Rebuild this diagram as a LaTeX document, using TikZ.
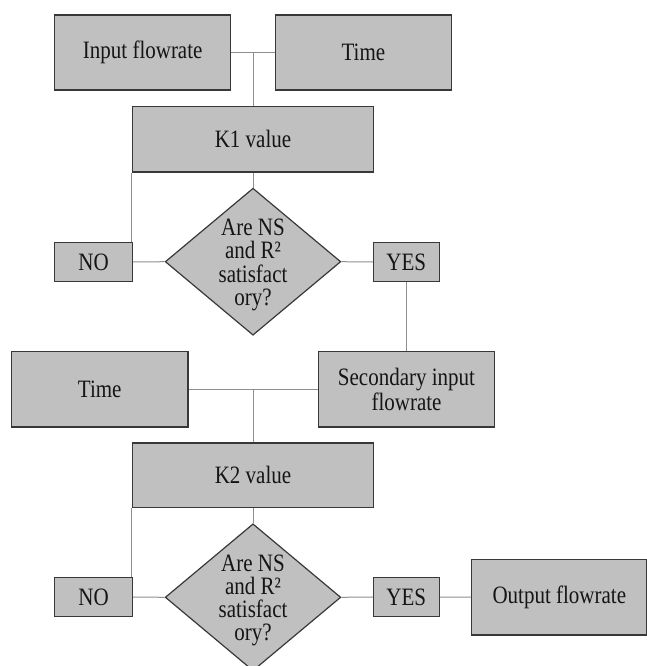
\documentclass[tikz,border=0pt]{standalone}
\usepackage{fontspec}
\setmainfont{Liberation Serif}
\usepackage{graphicx}
\usetikzlibrary{shapes.geometric}
\definecolor{boxfill}{HTML}{C0C0C0}
\definecolor{boxline}{HTML}{383838}
\definecolor{connclr}{HTML}{8E8E8E}
\definecolor{txtclr}{HTML}{151515}
\newcommand\hs[1]{\scalebox{0.84}[1]{#1}}
\begin{document}
\begin{tikzpicture}[x=1pt,y=-1pt,
  box/.style={draw=boxline, fill=boxfill, line width=1.2pt, inner sep=0pt, align=center, text=txtclr, font=\fontsize{25}{24.5}\selectfont},
  decision/.style={draw=boxline, fill=boxfill, line width=1.2pt, diamond, inner sep=0pt, minimum width=175.6pt, minimum height=147pt},
  txt/.style={align=center, inner sep=0pt, text=txtclr, font=\fontsize{25}{23.2}\selectfont},
  conn/.style={draw=connclr, line width=1pt}]
\useasboundingbox (0,0) rectangle (646,666);
% nodes
\node[box, minimum width=176pt, minimum height=75pt] (in) at (142.7,52.5) {\hs{Input flowrate}};
\node[box, minimum width=176pt, minimum height=75pt] (t1) at (363.4,52.5) {\hs{Time}};
\node[box, minimum width=241.4pt, minimum height=65.3pt] (k1) at (253,139.3) {\hs{K1 value}};
\node[decision] (d1) at (253,261.7) {};
\node[txt] (d1t) at (253,265) {\hs{Are NS}\\\hs{and R²}\\\hs{satisfact}\\\hs{ory?}};
\node[box, minimum width=77.9pt, minimum height=39.4pt] (no1) at (93.65,262) {\hs{NO}};
\node[box, minimum width=65.9pt, minimum height=39.4pt] (yes1) at (406.3,262) {\hs{YES}};
\node[box, minimum width=176.4pt, minimum height=75.3pt] (t2) at (99.7,389.3) {\hs{Time}};
\node[box, minimum width=176pt, minimum height=75.3pt] (sec) at (406.5,389.3) {\hs{Secondary input}\\\hs{flowrate}};
\node[box, minimum width=241.4pt, minimum height=64.5pt] (k2) at (253,475.2) {\hs{K2 value}};
\node[decision] (d2) at (253,597.3) {};
\node[txt] (d2t) at (253,600.6) {\hs{Are NS}\\\hs{and R²}\\\hs{satisfact}\\\hs{ory?}};
\node[box, minimum width=77.9pt, minimum height=39.4pt] (no2) at (93.65,597) {\hs{NO}};
\node[box, minimum width=65.9pt, minimum height=39.4pt] (yes2) at (406.3,597) {\hs{YES}};
\node[box, minimum width=175pt, minimum height=75.7pt] (out) at (559.3,597.2) {\hs{Output flowrate}};
% connectors
\draw[conn] (in.east) -- (t1.west);
\draw[conn] (k1.north) -- (k1.north |- in.east);
\draw[conn] (k1.south) -- (d1.north);
\draw[conn] (no1.east) -- (d1.west);
\draw[conn] (d1.east) -- (yes1.west);
\draw[conn] (k1.south west) -- (k1.south west |- no1.north);
\draw[conn] (yes1.south) -- (yes1.south |- sec.north);
\draw[conn] (t2.east) -- (sec.west);
\draw[conn] (k2.north) -- (k2.north |- t2.east);
\draw[conn] (k2.south) -- (d2.north);
\draw[conn] (no2.east) -- (d2.west);
\draw[conn] (d2.east) -- (yes2.west);
\draw[conn] (yes2.east) -- (out.west);
\draw[conn] (k2.south west) -- (k2.south west |- no2.north);
\end{tikzpicture}
\end{document}
